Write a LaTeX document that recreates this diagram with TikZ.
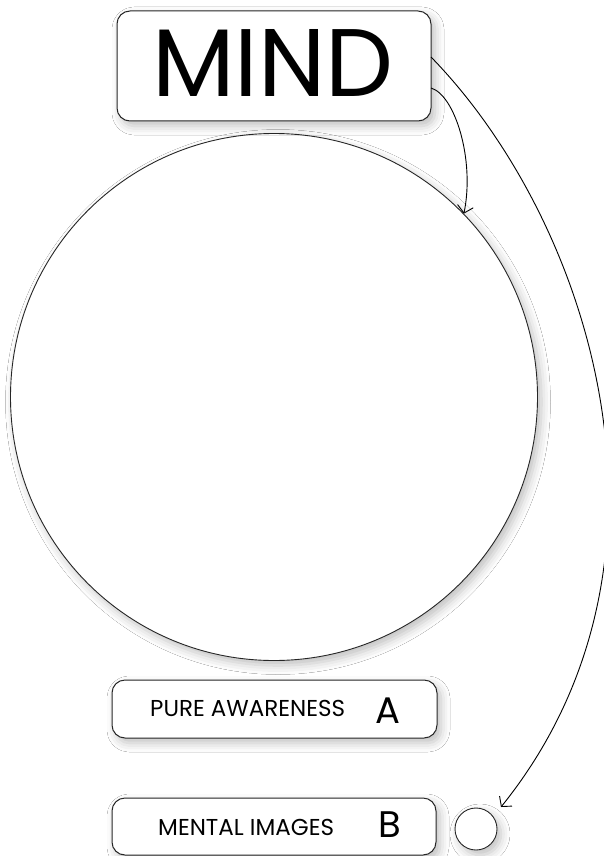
\documentclass[tikz,border=0pt]{standalone}
\usepackage{fontspec}
\setmainfont{Poppins}
\usetikzlibrary{arrows.meta,shadows.blur}
\begin{document}
\begin{tikzpicture}[x=1pt,y=-1pt,
  shad/.style={blur shadow={shadow xshift=4pt,shadow yshift=-5pt,shadow blur radius=9pt,shadow opacity=25}},
  boxst/.style={draw=black!85,line width=1pt,rounded corners=13pt,fill=white,shad,inner sep=0pt},
  circst/.style={draw=black!85,line width=0.9pt,fill=white,circle,shad,inner sep=0pt},
  conn/.style={line width=0.9pt,-{Straight Barb[length=7pt,width=16pt,line width=0.9pt]}}
]
\useasboundingbox[fill=white] (0,0) rectangle (604,856);
\node[circst,minimum size=527pt] (big) at (274,397) {};
\node[boxst,minimum width=314pt,minimum height=110pt] (mind) at (274,66) {};
\node[font=\fontsize{96}{96}\selectfont,anchor=base] (mindt) at (273,97) {MIND};
\node[boxst,minimum width=325pt,minimum height=58pt] (pa) at (274.5,709) {};
\node[font=\fontsize{23}{23}\selectfont,anchor=base west,inner sep=0pt] (pat) at (150,716.5) {PURE AWARENESS};
\node[font=\fontsize{37}{37}\selectfont,anchor=base west,inner sep=0pt] (at) at (375,723) {A};
\node[boxst,minimum width=324pt,minimum height=57pt] (mi) at (274,826.5) {};
\node[font=\fontsize{23}{23}\selectfont,anchor=base west,inner sep=0pt] (mit) at (158,835) {MENTAL IMAGES};
\node[font=\fontsize{37}{37}\selectfont,anchor=base west,inner sep=0pt] (bt) at (378,837) {B};
\node[circst,minimum size=42pt] (sc) at (476,829) {};
\coordinate (m1) at (431,57);
\coordinate (m2) at (431,88);
\coordinate (e1) at (501,807);
\draw[conn] (m1) .. controls (590,220) and (700,560) .. (e1);
\draw[conn] (m2) .. controls (455,95) and (475,160) .. (big.44);
\end{tikzpicture}
\end{document}
